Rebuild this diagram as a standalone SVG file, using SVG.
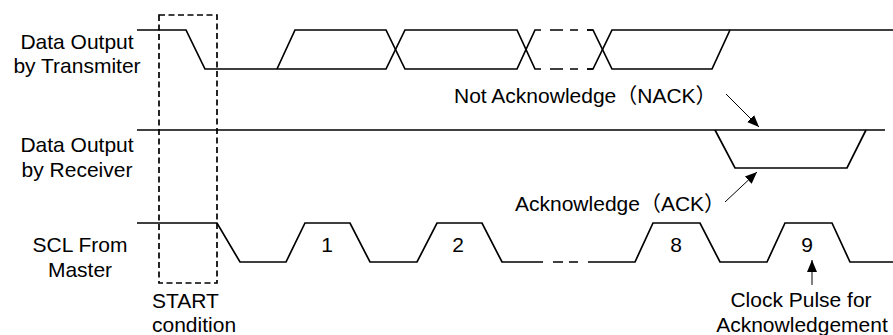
<svg xmlns="http://www.w3.org/2000/svg" width="893" height="335" viewBox="0 0 893 335">
<style>
.sig{fill:none;stroke:#000;stroke-width:1.7;stroke-linejoin:miter}
.dsh{fill:none;stroke:#000;stroke-width:1.7}
.box{fill:none;stroke:#000;stroke-width:1.7;stroke-dasharray:6,3.5}
.arr{fill:none;stroke:#000;stroke-width:1}
text{font-family:"Liberation Sans",Arial,"Noto Sans CJK SC",sans-serif;font-size:21px;fill:#000}
.m{text-anchor:middle}
</style>
<defs>
<marker id="ah" viewBox="0 0 12 12" refX="12" refY="6" markerWidth="12" markerHeight="12" markerUnits="userSpaceOnUse" orient="auto">
<path d="M0,1 L12,6 L0,11 Z" fill="#000"/>
</marker>
</defs>
<rect width="893" height="335" fill="#fff"/>
<g id="labels">
<text class="m" x="77" y="49">Data Output</text>
<text class="m" x="77" y="73">by Transmiter</text>
<text class="m" x="77" y="152">Data Output</text>
<text class="m" x="77" y="177">by Receiver</text>
<text class="m" x="80" y="252">SCL From</text>
<text class="m" x="80" y="277">Master</text>
</g>
<g id="start-condition">
<rect class="box" x="159" y="15" width="58" height="268"/>
<text x="152" y="308">START</text>
<text x="152" y="332">condition</text>
</g>
<g id="transmitter-signal">
<polyline class="sig" points="137,30 186,30 205,69 386,69 405,30 517,30 535,69 541,69"/>
<polyline class="sig" points="277,69 295,30 386,30 405,69 517,69 535,30 541,30"/>
<path class="dsh" d="M550,30H563M570,30H578M587,30H593M550,69H563M570,69H578M587,69H593"/>
<polyline class="sig" points="587,30 593,30 612,69 712,69 730,30 893,30"/>
<polyline class="sig" points="587,69 593,69 612,30 730,30"/>
</g>
<g id="receiver-signal">
<line class="sig" x1="137" y1="130" x2="885" y2="130"/>
<polyline class="sig" points="715,130 735,168 847,168 866,130"/>
</g>
<g id="scl-signal">
<polyline class="sig" points="137,223 217,223 240,262 286,262 305,223 350,223 370,262 417,262 437,223 482,223 502,262 543,262"/>
<path class="dsh" d="M553,262H563M569,262H578"/>
<polyline class="sig" points="588,262 635,262 653,223 700,223 720,262 767,262 785,223 832,223 850,262 893,262"/>
<text class="m" x="327" y="252">1</text>
<text class="m" x="458" y="252">2</text>
<text class="m" x="676" y="252">8</text>
<text class="m" x="807" y="252">9</text>
</g>
<g id="nack-label">
<text x="454" y="103">Not Acknowledge（NACK）</text>
</g>
<g id="ack-label">
<text x="515" y="211">Acknowledge（ACK）</text>
</g>
<g id="clock-label">
<text class="m" x="801" y="307">Clock Pulse for</text>
<text class="m" x="802" y="332">Acknowledgement</text>
</g>
<g id="connectors">
<line class="arr" x1="726" y1="94" x2="759" y2="127" marker-end="url(#ah)"/>
<line class="arr" x1="725" y1="202" x2="757" y2="172" marker-end="url(#ah)"/>
<line class="arr" x1="812" y1="285" x2="812" y2="260" marker-end="url(#ah)"/>
</g>
</svg>
